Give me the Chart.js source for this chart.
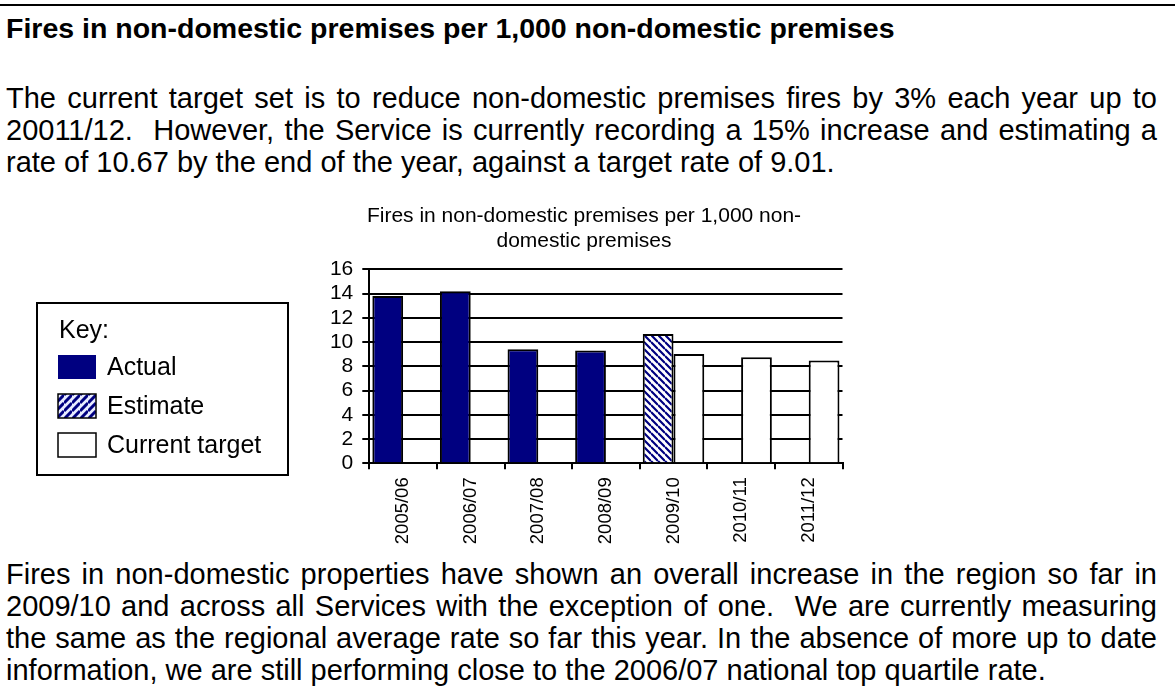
<!DOCTYPE html>
<html lang="en">
<head>
<meta charset="UTF-8">
<title>Fires in non-domestic premises</title>
<script src="https://cdn.jsdelivr.net/npm/chart.js@4"></script>
<style>
  html, body { margin: 0; padding: 0; background: #fff; }
  body { width: 1175px; height: 689px; position: relative; overflow: hidden;
         font-family: "Liberation Sans", Arial, sans-serif; color: #000; }
  .rule { position: absolute; left: 0; top: 4px; width: 1175px; height: 2px; background: #000; }
  h1 { position: absolute; left: 6px; top: 12px; margin: 0; font-size: 28.5px; line-height: 32px; font-weight: bold; white-space: nowrap; }
  p { position: absolute; left: 6px; width: 1151px; margin: 0; font-size: 29px; line-height: 32px; text-align: justify; }
  #p1 { top: 82px; }
  #p2 { top: 558px; }
  #chartBox { position: absolute; left: 0; top: 195px; }
</style>
</head>
<body>
  <div class="rule"></div>
  <h1>Fires in non-domestic premises per 1,000 non-domestic premises</h1>
  <p id="p1">The current target set is to reduce non-domestic premises fires by 3% each year up to 20011/12.&nbsp; However, the Service is currently recording a 15% increase and estimating a rate of 10.67 by the end of the year, against a target rate of 9.01.</p>

  <canvas id="chartBox" width="880" height="360"></canvas>

  <p id="p2">Fires in non-domestic properties have shown an overall increase in the region so far in 2009/10 and across all Services with the exception of one.&nbsp; We are currently measuring the same as the regional average rate so far this year. In the absence of more up to date information, we are still performing close to the 2006/07 national top quartile rate.</p>

<script>
  const years = ['2005/06', '2006/07', '2007/08', '2008/09', '2009/10', '2010/11', '2011/12'];
  const actual = [13.8, 14.2, 9.4, 9.3, null, null, null];
  const estimate = [null, null, null, null, 10.67, null, null];
  const target = [null, null, null, null, 9.01, 8.74, 8.48];

  const FONT = '"Liberation Sans", Arial, sans-serif';
  Chart.defaults.font.family = FONT;
  Chart.defaults.color = '#000';

  // diagonal stripes, dir '\\' or '/'
  function hatch(dir, size, fg, bg, lw) {
    const c = document.createElement('canvas');
    c.width = c.height = size;
    const g = c.getContext('2d');
    g.fillStyle = bg;
    g.fillRect(0, 0, size, size);
    g.strokeStyle = fg;
    g.lineWidth = lw;
    g.beginPath();
    for (let k = -1; k <= 1; k++) {
      if (dir === '\\') { g.moveTo(0, k * size); g.lineTo(size, size + k * size); }
      else { g.moveTo(0, size + k * size); g.lineTo(size, k * size); }
    }
    g.stroke();
    return g.createPattern(c, 'repeat');
  }

  const barHatch = hatch('\\', 7, '#000080', '#ffffff', 2.2);
  const keyHatch = hatch('/', 8, '#000080', '#e8ecff', 3);

  // the "Key:" box on the left of the chart
  const keyBox = {
    id: 'keyBox',
    afterDraw(chart) {
      const ctx = chart.ctx;
      const swatch = [
        { fill: '#000080', border: false },
        { fill: keyHatch, border: true },
        { fill: '#ffffff', border: true }
      ];
      ctx.save();
      ctx.lineWidth = 2;
      ctx.strokeStyle = '#000';
      ctx.strokeRect(37, 108, 251, 172);
      ctx.font = '25px ' + FONT;
      ctx.textBaseline = 'alphabetic';
      ctx.fillStyle = '#000';
      ctx.fillText('Key:', 59, 143);
      chart.data.datasets.forEach((ds, i) => {
        const y = 160 + i * 39;
        ctx.fillStyle = swatch[i].fill;
        ctx.fillRect(58, y, 38, 24);
        if (swatch[i].border) {
          ctx.lineWidth = 1.5;
          ctx.strokeStyle = '#000';
          ctx.strokeRect(58, y, 38, 24);
        }
        ctx.fillStyle = '#000';
        ctx.fillText(ds.label, 107, y + 20);
      });
      ctx.restore();
    }
  };

  const ctx = document.getElementById('chartBox').getContext('2d');
  new Chart(ctx, {
    type: 'bar',
    data: {
      labels: years,
      datasets: [
        { label: 'Actual', data: actual, stack: 'a', backgroundColor: '#000080', borderColor: '#000', borderWidth: 2 },
        { label: 'Estimate', data: estimate, stack: 'a', backgroundColor: barHatch, borderColor: '#000', borderWidth: 2 },
        { label: 'Current target', data: target, stack: 'b', backgroundColor: '#ffffff', borderColor: '#000', borderWidth: 2 }
      ]
    },
    options: {
      responsive: false,
      animation: false,
      datasets: { bar: { categoryPercentage: 0.91, barPercentage: 1 } },
      layout: { padding: { left: 325.5, right: 37.5, top: 0, bottom: 0 } },
      plugins: {
        legend: { display: false },
        tooltip: { enabled: false },
        title: {
          display: true,
          text: ['Fires in non-domestic premises per 1,000 non-', 'domestic premises'],
          color: '#000',
          font: { size: 21, weight: 'normal', lineHeight: 1.15 },
          padding: { top: 9.5, bottom: 16.5 }
        }
      },
      scales: {
        x: {
          stacked: true,
          grid: { drawOnChartArea: false, drawTicks: true, tickLength: 6, color: '#000', lineWidth: 2 },
          border: { color: '#000', width: 2 },
          ticks: { color: '#000', font: { size: 18.5 }, maxRotation: 90, minRotation: 90, padding: 8, autoSkip: false },
          afterFit: s => { s.height = 91.7; }
        },
        y: {
          stacked: true,
          min: 0,
          max: 16,
          ticks: { stepSize: 2, autoSkip: false, color: '#000', font: { size: 21 }, padding: 9 },
          grid: { color: '#000', lineWidth: 2, tickLength: 7 },
          border: { color: '#000', width: 2 },
          afterFit: s => { s.width = 43.8; }
        }
      }
    },
    plugins: [keyBox]
  });
</script>
</body>
</html>
